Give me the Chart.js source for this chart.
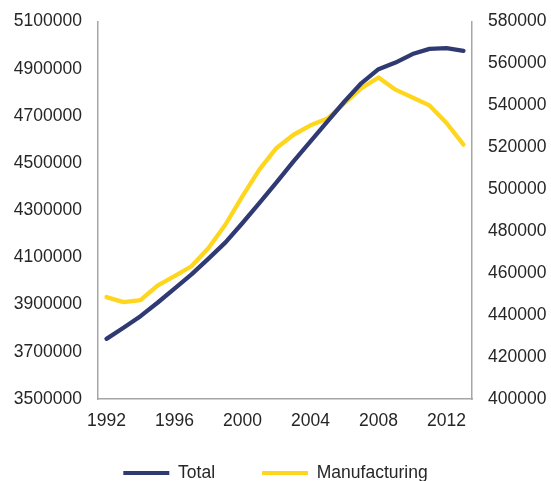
<!DOCTYPE html>
<html>
<head>
<meta charset="utf-8">
<script src="https://cdn.jsdelivr.net/npm/chart.js@4.4.1/dist/chart.umd.min.js"></script>
<style>
html,body{margin:0;padding:0;background:#fff;overflow:hidden;}
#wrap{width:551px;height:508px;position:relative;}
</style>
</head>
<body>
<div id="wrap"><canvas id="c"></canvas></div>
<script>
const years = [1992,1993,1994,1995,1996,1997,1998,1999,2000,2001,2002,2003,2004,2005,2006,2007,2008,2009,2010,2011,2012,2013];
const totalValues = [3755000,3802000,3851000,3908000,3968000,4028000,4095000,4164000,4246000,4331000,4418000,4507000,4592000,4677000,4761000,4839000,4898000,4926000,4962000,4984000,4987000,4976000];
const manufacturingValues = [448600,446200,447100,454100,458600,463300,472000,483200,496700,509500,519700,526000,530500,533700,541100,548200,553300,547500,543800,540000,531600,521300];
const seriesNames = ['Total','Manufacturing'];
const seriesColors = ['#2F3A73','#FFD61E'];
const xTickLabels = ['1992','1996','2000','2004','2008','2012'];

const font = {family:'"Liberation Sans", Arial, sans-serif', size:17.5};
const axisColor = '#A6A6A6';
const textColor = '#262626';
const legendPad = 47;

const legendShift = {
  id:'legendShift',
  afterLayout(chart){
    const lg = chart.legend;
    if (!lg) return;
    const h = lg.height;
    lg.top = 473 - 8.75 - legendPad;
    lg.bottom = lg.top + h;
  }
};

new Chart(document.getElementById('c'), {
  type:'line',
  data:{
    labels: years.map(String),
    datasets:[
      {label:seriesNames[0], data:totalValues, yAxisID:'yL', borderColor:seriesColors[0], backgroundColor:seriesColors[0], borderWidth:4.3, pointRadius:0, tension:0, borderCapStyle:'round', borderJoinStyle:'round'},
      {label:seriesNames[1], data:manufacturingValues, yAxisID:'yR', borderColor:seriesColors[1], backgroundColor:seriesColors[1], borderWidth:4.3, pointRadius:0, tension:0, borderCapStyle:'round', borderJoinStyle:'round'}
    ]
  },
  plugins:[legendShift],
  options:{
    responsive:true, maintainAspectRatio:false, animation:false,
    layout:{padding:{top:20,left:0,right:0,bottom:0}},
    plugins:{
      tooltip:{enabled:false},
      legend:{
        position:'bottom',
        labels:{
          font:font, color:textColor, boxWidth:46, boxHeight:4, padding:legendPad,
          generateLabels:(chart)=>chart.data.datasets.map((d,i)=>({text:d.label, fillStyle:d.borderColor, strokeStyle:d.borderColor, lineWidth:0, datasetIndex:i, fontColor:textColor}))
        }
      }
    },
    scales:{
      x:{
        type:'category', offset:true,
        grid:{display:false, drawTicks:false},
        border:{display:true, color:axisColor, width:1.5},
        ticks:{font:font, color:textColor, autoSkip:false, maxRotation:0, padding:12,
          callback:function(v,i){const l=this.getLabelForValue(v); return xTickLabels.includes(l)?l:'';}},
        afterFit:(s)=>{s.height=34.5;}
      },
      yL:{
        position:'left', min:3500000, max:5100000,
        grid:{display:false, drawTicks:true, tickLength:5},
        border:{display:true, color:axisColor, width:1.5},
        ticks:{font:font, color:textColor, stepSize:200000, padding:11, callback:(v)=>String(v)},
        afterFit:(s)=>{s.width=98;}
      },
      yR:{
        position:'right', min:400000, max:580000,
        grid:{display:false, drawTicks:true, tickLength:5},
        border:{display:true, color:axisColor, width:1.5},
        ticks:{font:font, color:textColor, stepSize:20000, padding:11, callback:(v)=>String(v)},
        afterFit:(s)=>{s.width=79;}
      }
    }
  }
});
</script>
</body>
</html>
